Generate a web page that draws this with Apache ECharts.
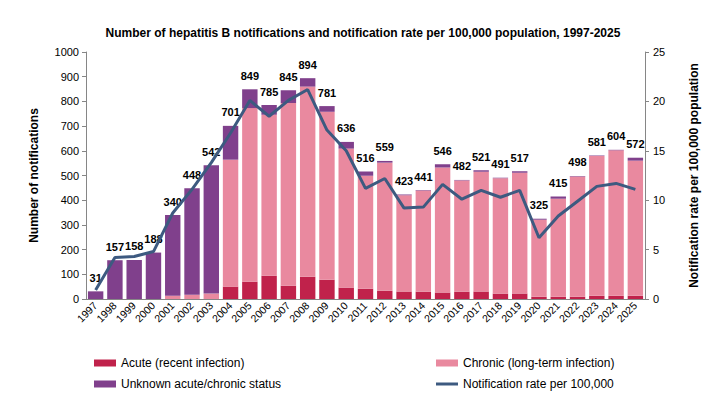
<!DOCTYPE html>
<html>
<head>
<meta charset="utf-8">
<script src="https://cdn.jsdelivr.net/npm/echarts@6/dist/echarts.min.js"></script>
<style>
  html, body { margin: 0; padding: 0; background: #fff; }
  #grafico { width: 726px; height: 412px; }
</style>
</head>
<body>
<div id="grafico"></div>
<script>
// Datos
const anios = ['1997','1998','1999','2000','2001','2002','2003','2004','2005','2006',
  '2007','2008','2009','2010','2011','2012','2013','2014','2015','2016',
  '2017','2018','2019','2020','2021','2022','2023','2024','2025'];

const agudos = [0, 0, 0, 0, 0, 0, 0, 50, 70, 94,
  54, 90, 78, 46, 42, 34, 30, 30, 26, 30,
  30, 22, 22, 9, 9, 9, 13, 13, 13];

const cronicos = [0, 0, 0, 0, 13, 17, 22, 514, 703, 652,
  740, 770, 680, 563, 457, 518, 390, 409, 506, 450,
  485, 467, 489, 312, 397, 487, 566, 589, 547];

const totales = [31, 157, 158, 188, 340, 448, 542, 701, 849, 785,
  845, 894, 781, 636, 516, 559, 423, 441, 546, 482,
  521, 491, 517, 325, 415, 498, 581, 604, 572];

const tasa = [0.9, 4.2, 4.3, 4.8, 8.7, 11.1, 13.8, 16.8, 20.1, 18.5,
  20.1, 21.2, 17.1, 15.0, 11.2, 12.2, 9.2, 9.3, 11.6, 10.1,
  11.0, 10.3, 11.0, 6.2, 8.4, 9.9, 11.4, 11.7, 11.1];

// estado desconocido = total - agudo - crónico
const desconocidos = totales.map((t, i) => t - agudos[i] - cronicos[i]);

const fuente = "'Liberation Sans', Arial, sans-serif";
const gris = '#868686';

function crearGrafico() {
    return {
        textStyle: { fontFamily: fuente, color: '#000' },
        title: {
            text: 'Number of hepatitis B notifications and notification rate per 100,000 population, 1997-2025',
            left: 'center',
            top: 22,
            textStyle: { fontSize: 12, fontWeight: 'bold', color: '#000', fontFamily: fuente }
        },
        grid: { left: 86, right: 81, top: 52, bottom: 113 },
        legend: [
            {
                orient: 'vertical',
                left: 89,
                top: 352,
                itemWidth: 22,
                itemHeight: 7,
                itemGap: 9,
                textStyle: { fontSize: 12, color: '#000' },
                data: [
                    { name: 'Acute (recent infection)', icon: 'rect' },
                    { name: 'Unknown acute/chronic status', icon: 'rect' }
                ]
            },
            {
                orient: 'vertical',
                left: 431,
                top: 352,
                itemWidth: 22,
                itemHeight: 7,
                itemGap: 9,
                textStyle: { fontSize: 12, color: '#000' },
                data: [
                    { name: 'Chronic (long-term infection)', icon: 'rect' },
                    { name: 'Notification rate per 100,000', icon: 'path://M0 0 H22 V3 H0 Z' }
                ]
            }
        ],
        xAxis: {
            type: 'category',
            data: anios,
            axisLine: { lineStyle: { color: gris } },
            axisTick: { lineStyle: { color: gris }, length: 4 },
            axisLabel: { rotate: 45, interval: 0, fontSize: 10.5, color: '#000', margin: 5 }
        },
        yAxis: [
            {
                type: 'value',
                min: 0, max: 1000, interval: 100,
                name: 'Number of notifications',
                nameLocation: 'middle',
                nameGap: 46,
                nameTextStyle: { fontSize: 12, fontWeight: 'bold', color: '#000' },
                axisLine: { show: true, lineStyle: { color: gris } },
                axisTick: { show: true, lineStyle: { color: gris }, length: 4 },
                axisLabel: { fontSize: 11, color: '#000', margin: 7, formatter: v => String(v) },
                splitLine: { show: false }
            },
            {
                type: 'value',
                min: 0, max: 25, interval: 5,
                name: 'Notification rate per 100,000 population',
                nameLocation: 'middle',
                nameGap: 43,
                nameRotate: 90,
                nameTextStyle: { fontSize: 12, fontWeight: 'bold', color: '#000' },
                axisLine: { show: true, lineStyle: { color: gris } },
                axisTick: { show: true, lineStyle: { color: gris }, length: 4 },
                axisLabel: { fontSize: 11, color: '#000', margin: 8 },
                splitLine: { show: false }
            }
        ],
        series: [
            {
                name: 'Acute (recent infection)',
                type: 'bar',
                stack: 'total',
                barCategoryGap: '20%',
                itemStyle: { color: '#C0224B' },
                data: agudos
            },
            {
                name: 'Chronic (long-term infection)',
                type: 'bar',
                stack: 'total',
                itemStyle: { color: '#E9899F' },
                data: cronicos
            },
            {
                name: 'Unknown acute/chronic status',
                type: 'bar',
                stack: 'total',
                itemStyle: { color: '#80408C' },
                label: {
                    show: true,
                    position: 'top',
                    distance: 8,
                    fontSize: 11,
                    fontWeight: 'bold',
                    color: '#000',
                    formatter: p => totales[p.dataIndex]
                },
                data: desconocidos
            },
            {
                name: 'Notification rate per 100,000',
                type: 'line',
                yAxisIndex: 1,
                symbol: 'none',
                showSymbol: false,
                lineStyle: { color: '#3D5A80', width: 3 },
                itemStyle: { color: '#3D5A80' },
                z: 5,
                data: tasa
            }
        ]
    };
}

const grafico = echarts.init(document.getElementById('grafico'), null, { renderer: 'svg' });
grafico.setOption(crearGrafico());
</script>
</body>
</html>
